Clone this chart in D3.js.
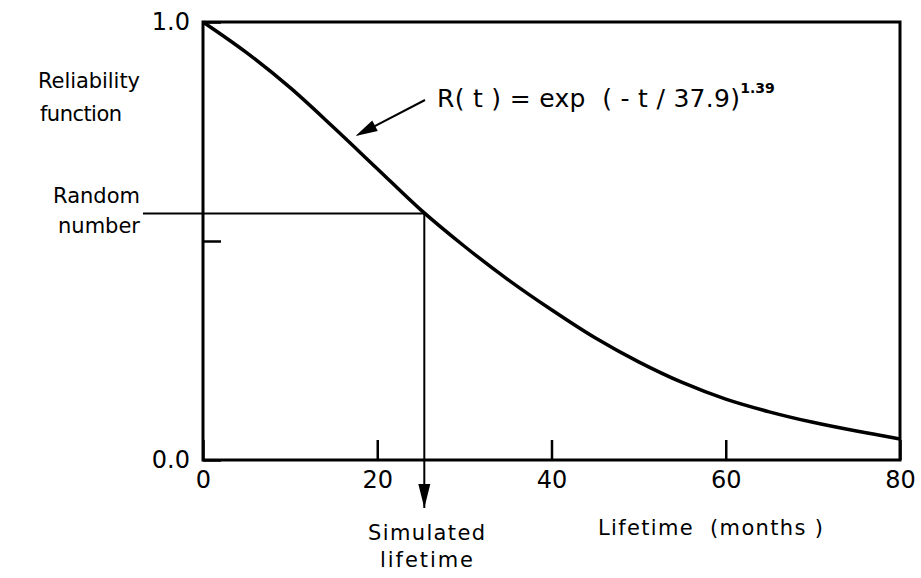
<!DOCTYPE html>
<html>
    <head>
        <style>
            body { margin: 0; background: #fff; }
            text {
                font-family: "DejaVu Sans", sans-serif;
                fill: #000;
            }
            .tick text { font-size: 24px; }
            .label { font-size: 21px; white-space: pre; }
            .axis path { display: none; }
            .axis line { stroke: #000; stroke-width: 2.5; }
        </style>
        <script src="https://d3js.org/d3.v7.min.js"></script>
    </head>
    <body>
        <svg width="921" height="578"></svg>
        <script>
            // values
            var months = [0, 5, 10, 15, 20, 25, 30, 35, 40, 45, 50, 55, 60, 65, 70, 75, 80];
            var reliability = [1.0, 0.93, 0.85, 0.759, 0.665, 0.571, 0.488, 0.412, 0.343, 0.279,
                               0.224, 0.177, 0.139, 0.110, 0.086, 0.066, 0.048];
            var xTicks = [0, 20, 40, 60, 80];
            var yTicks = [0, 0.5, 1.0];
            var randomNumber = 0.563;
            var simulatedLifetime = 25.4;

            var svg = d3.select("svg");

            var x = d3.scaleLinear().domain([0, 80]).range([203, 900]);
            var y = d3.scaleLinear().domain([0, 1]).range([460, 22]);

            var data = months.map(function(m, i) { return {t: m, r: reliability[i]}; });

            // axes with inward ticks
            svg.append("g")
               .attr("class", "axis")
               .attr("transform", "translate(0," + y(0) + ")")
               .call(d3.axisBottom(x).tickValues(xTicks).tickSizeInner(-20).tickSizeOuter(0).tickPadding(11));

            svg.append("g")
               .attr("class", "axis")
               .attr("transform", "translate(" + x(0) + ",0)")
               .call(d3.axisLeft(y).tickValues(yTicks).tickSizeInner(-18).tickSizeOuter(0).tickPadding(13)
                        .tickFormat(function(d) { return d === 0.5 ? "" : d3.format(".1f")(d); }));

            svg.selectAll(".axis .tick text").attr("font-size", null).attr("font-family", null);

            // frame
            svg.append("rect")
               .attr("x", x(0)).attr("y", y(1))
               .attr("width", x(80) - x(0)).attr("height", y(0) - y(1))
               .attr("fill", "none").attr("stroke", "#000").attr("stroke-width", 3);

            // curve
            var line = d3.line()
                         .x(function(d) { return x(d.t); })
                         .y(function(d) { return y(d.r); })
                         .curve(d3.curveCatmullRom);

            svg.append("path")
               .datum(data)
               .attr("d", line)
               .attr("fill", "none").attr("stroke", "#000").attr("stroke-width", 3.5);

            // random number -> simulated lifetime
            svg.append("line")
               .attr("x1", x(0) - 60).attr("y1", y(randomNumber))
               .attr("x2", x(simulatedLifetime)).attr("y2", y(randomNumber))
               .attr("stroke", "#000").attr("stroke-width", 2);

            svg.append("line")
               .attr("x1", x(simulatedLifetime)).attr("y1", y(randomNumber))
               .attr("x2", x(simulatedLifetime)).attr("y2", y(0) + 48)
               .attr("stroke", "#000").attr("stroke-width", 2);

            var ax = x(simulatedLifetime), ay = y(0) + 48;
            svg.append("path")
               .attr("d", "M" + (ax - 6) + "," + (ay - 24) + "L" + (ax + 6) + "," + (ay - 24) + "L" + ax + "," + ay + "Z")
               .attr("fill", "#000");

            // pointer to the curve
            var tip = [x(17.5), y(0.74)];
            var tail = [425, 100];
            svg.append("line")
               .attr("x1", tail[0]).attr("y1", tail[1])
               .attr("x2", tip[0] + 14).attr("y2", tip[1] - 7)
               .attr("stroke", "#000").attr("stroke-width", 2);

            var ang = Math.atan2(tip[1] - tail[1], tip[0] - tail[0]);
            var hl = 22, hw = 6;
            var bx = tip[0] - hl * Math.cos(ang), by = tip[1] - hl * Math.sin(ang);
            svg.append("path")
               .attr("d", "M" + tip[0] + "," + tip[1] +
                          "L" + (bx + hw * Math.sin(ang)) + "," + (by - hw * Math.cos(ang)) +
                          "L" + (bx - hw * Math.sin(ang)) + "," + (by + hw * Math.cos(ang)) + "Z")
               .attr("fill", "#000");

            // formula
            var f = svg.append("text").attr("class", "label").attr("x", 437).attr("y", 107).style("font-size", "25px");
            f.append("tspan").attr("textLength", 303).attr("lengthAdjust", "spacing").text("R( t ) = exp  ( - t / 37.9)");
            f.append("tspan").attr("dy", -14).style("font-size", "14px").style("font-weight", "bold").text("1.39");

            // labels
            svg.append("text").attr("class", "label").attr("x", 38).attr("y", 88)
               .attr("textLength", 102).text("Reliability");
            svg.append("text").attr("class", "label").attr("x", 40).attr("y", 121)
               .attr("textLength", 82).text("function");
            svg.append("text").attr("class", "label").attr("x", 140).attr("y", 203)
               .attr("text-anchor", "end").text("Random");
            svg.append("text").attr("class", "label").attr("x", 140).attr("y", 233)
               .attr("text-anchor", "end").text("number");

            svg.append("text").attr("class", "label").attr("x", 368).attr("y", 540)
               .attr("textLength", 117).text("Simulated");
            svg.append("text").attr("class", "label").attr("x", 380).attr("y", 567)
               .attr("textLength", 93).text("lifetime");

            svg.append("text").attr("class", "label").attr("x", 598).attr("y", 535)
               .attr("textLength", 225).text("Lifetime  (months )");
        </script>
    </body>
</html>
